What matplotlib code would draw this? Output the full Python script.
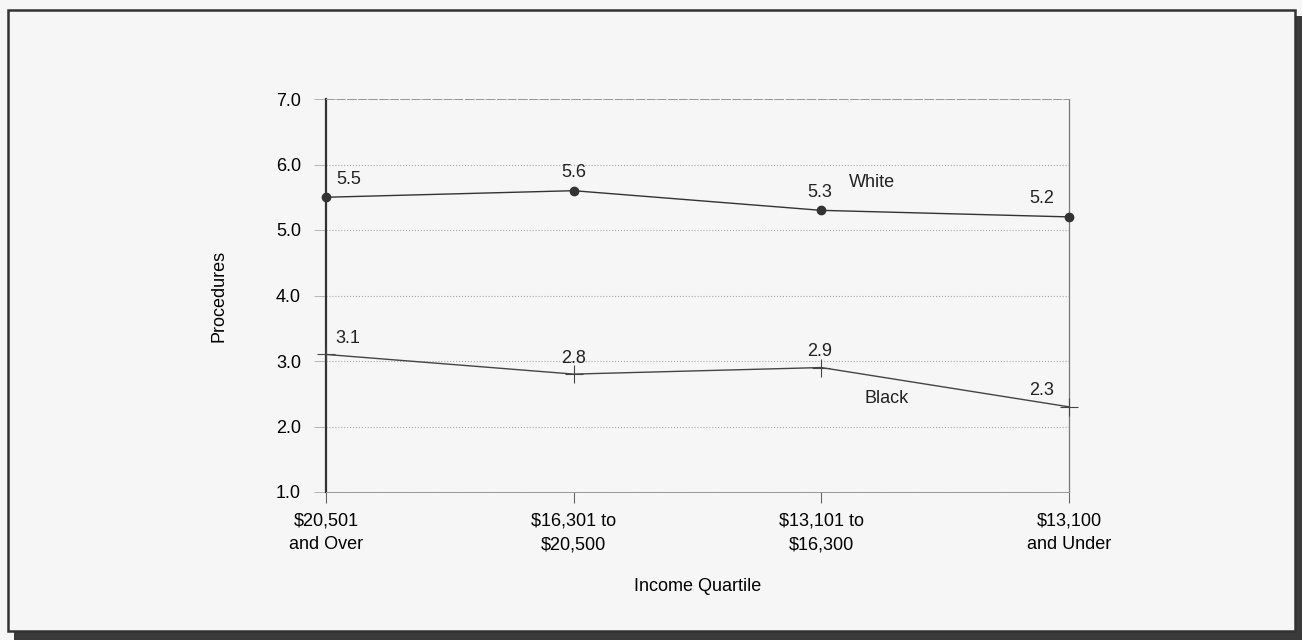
import matplotlib.pyplot as plt
from matplotlib.patches import Rectangle

plt.rcParams['font.family'] = ['Liberation Sans', 'DejaVu Sans']

quartiles = ['$20,501\nand Over', '$16,301 to\n$20,500', '$13,101 to\n$16,300', '$13,100\nand Under']
white = [5.5, 5.6, 5.3, 5.2]
black = [3.1, 2.8, 2.9, 2.3]
yticks = [1.0, 2.0, 3.0, 4.0, 5.0, 6.0, 7.0]

W, H = 1302, 640
fig = plt.figure(figsize=(W / 100, H / 100), dpi=100, facecolor='#f6f6f6')

# box with a dark drop shadow on the bottom and right
fig.patches.append(Rectangle((14 / W, 0), (W - 14) / W, (H - 16) / H,
                             transform=fig.transFigure, facecolor='#3a3a3a',
                             edgecolor='none', zorder=-2))
fig.patches.append(Rectangle((8 / W, (H - 631) / H), (1295 - 8) / W, (631 - 10) / H,
                             transform=fig.transFigure, facecolor='#f6f6f6',
                             edgecolor='#333333', linewidth=1.8, zorder=-1))

ax = fig.add_axes([326 / W, 148 / H, (1069 - 326) / W, (492 - 99) / H])
ax.set_zorder(1)
ax.set_facecolor('none')
x = list(range(len(quartiles)))

ax.plot(x, white, color='#333333', linewidth=1.0, marker='o', markersize=6,
        markerfacecolor='#333333', clip_on=False, zorder=3)
ax.plot(x, black, color='#444444', linewidth=1.0, marker='+', markersize=13,
        markeredgewidth=0.8, clip_on=False, zorder=3)

ax.set_xlim(0, 3)
ax.set_ylim(1.0, 7.0)
ax.set_yticks(yticks)
ax.set_yticklabels(['%.1f' % v for v in yticks], fontsize=13)
ax.set_xticks(x)
ax.set_xticklabels(quartiles, fontsize=13, linespacing=1.5)
ax.tick_params(axis='y', direction='out', length=9, width=0.6, color='#aaaaaa', pad=9)
ax.tick_params(axis='x', direction='out', length=8, width=0.8, color='#666666', pad=7)

ax.grid(axis='y', linestyle=':', color='#aaaaaa', linewidth=0.8)
ax.set_axisbelow(True)
for side in ['top', 'bottom']:
    ax.spines[side].set_color('#999999')
    ax.spines[side].set_linewidth(0.7)
ax.spines['top'].set_linestyle((0, (8, 3)))
ax.spines['right'].set_color('#777777')
ax.spines['right'].set_linewidth(0.9)
ax.spines['left'].set_color('#333333')
ax.spines['left'].set_linewidth(1.6)

ax.set_ylabel('Procedures', fontsize=13)
ax.set_xlabel('Income Quartile', fontsize=13)
ax.yaxis.set_label_coords(-0.133, 0.5)
ax.xaxis.set_label_coords(0.5, -0.219)

# value labels, offsets in pixels from each point
px_x = 1.0 / 247.7
px_y = 1.0 / 65.5
w_off = [(23, 18), (0, 18), (-2, 18), (-27, 18)]
for xi, v, (dx, dy) in zip(x, white, w_off):
    ax.text(xi + dx * px_x, v + dy * px_y, '%.1f' % v, ha='center', va='center',
            fontsize=13, color='#222222')
b_off = [(22, 16), (0, 16), (-2, 16), (-27, 16)]
for xi, v, (dx, dy) in zip(x, black, b_off):
    ax.text(xi + dx * px_x, v + dy * px_y, '%.1f' % v, ha='center', va='center',
            fontsize=13, color='#222222')

ax.text(2.204, 5.718, 'White', ha='center', va='center', fontsize=13, color='#222222')
ax.text(2.265, 2.42, 'Black', ha='center', va='center', fontsize=13, color='#222222')

fig.savefig('out.png', dpi=100, facecolor=fig.get_facecolor())
